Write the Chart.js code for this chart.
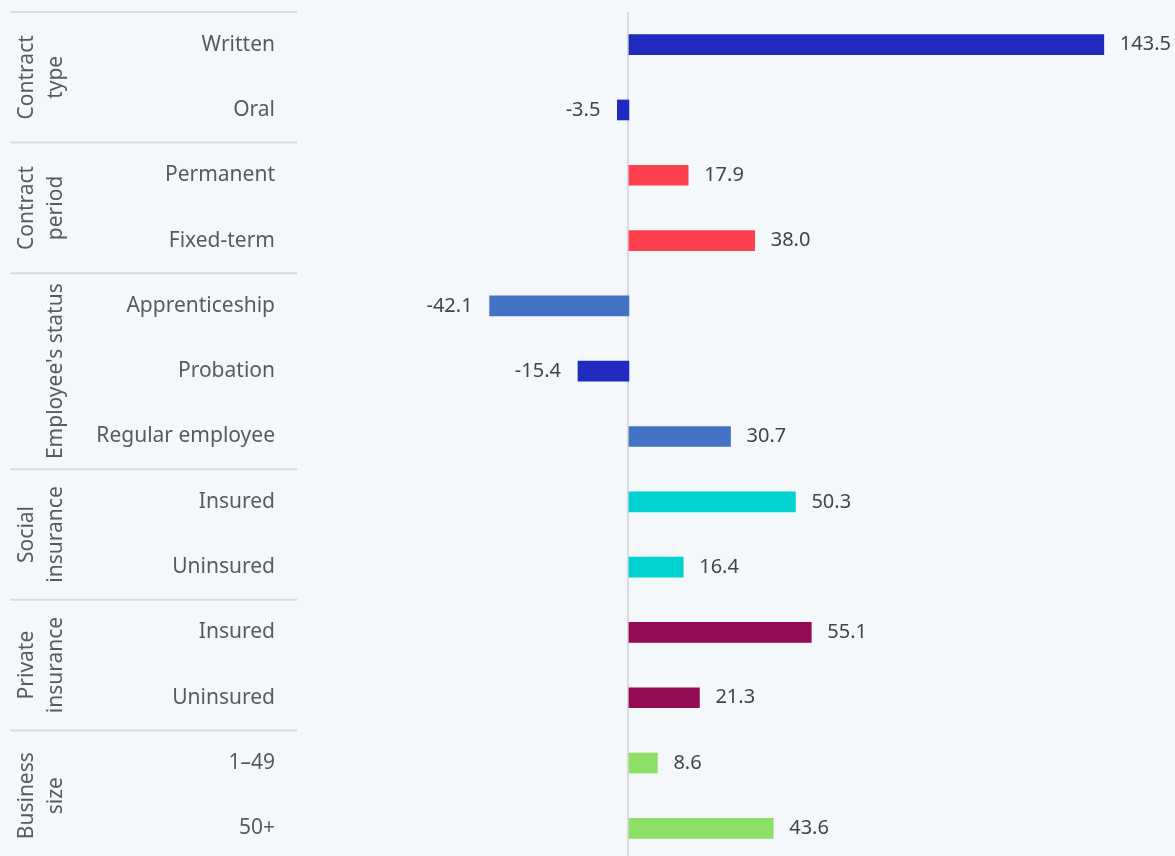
<!DOCTYPE html>
<html>
<head>
<meta charset="utf-8">
<script src="https://cdn.jsdelivr.net/npm/chart.js@4.4.1/dist/chart.umd.min.js"></script>
<style>
  html, body { margin: 0; padding: 0; background: #f5f8fa; overflow: hidden; }
  #wrap { position: relative; width: 1175px; height: 862px; }
</style>
</head>
<body>
<div id="wrap"><canvas id="chart"></canvas></div>
<script>
// Categories, grouped top to bottom
const categories = [
  'Written', 'Oral',
  'Permanent', 'Fixed-term',
  'Apprenticeship', 'Probation', 'Regular employee',
  'Insured', 'Uninsured',
  'Insured', 'Uninsured',
  '1–49', '50+'
];
const values = [143.5, -3.5, 17.9, 38.0, -42.1, -15.4, 30.7, 50.3, 16.4, 55.1, 21.3, 8.6, 43.6];
const barColors = [
  '#1f2bbf', '#1f2bbf',
  '#ff3f4d', '#ff3f4d',
  '#4472c4', '#1f2bbf', '#4472c4',
  '#00d1d1', '#00d1d1',
  '#930b52', '#930b52',
  '#8de065', '#8de065'
];
// Group headings (one array entry per text line) and how many rows each spans
const groupNames = [
  ['Contract', 'type'],
  ['Contract', 'period'],
  ["Employee's status"],
  ['Social', 'insurance'],
  ['Private', 'insurance'],
  ['Business', 'size']
];
const groupSizes = [2, 2, 3, 2, 2, 2];

const FONT = "'Noto Sans', 'Open Sans', sans-serif";

const decorations = {
  id: 'decorations',
  beforeDatasetsDraw(chart) {
    const { ctx, chartArea } = chart;
    const x = chart.scales.x, y = chart.scales.y;
    ctx.save();
    // zero line
    const x0 = x.getPixelForValue(0) - 1;
    ctx.strokeStyle = '#d9dcdf';
    ctx.lineWidth = 2;
    ctx.beginPath();
    ctx.moveTo(x0, chartArea.top);
    ctx.lineTo(x0, chartArea.bottom);
    ctx.stroke();

    // group separators and rotated group headings
    let start = 0;
    groupSizes.forEach((n, g) => {
      const yTop = y.getPixelForValue(start - 0.5);
      ctx.strokeStyle = '#d8dbde';
      ctx.lineWidth = 2;
      ctx.beginPath();
      ctx.moveTo(10, yTop);
      ctx.lineTo(297, yTop);
      ctx.stroke();

      const yMid = (y.getPixelForValue(start - 0.5) + y.getPixelForValue(start + n - 0.5)) / 2;
      const lines = groupNames[g];
      ctx.fillStyle = '#5a5a5a';
      ctx.font = '21px ' + FONT;
      ctx.textAlign = 'center';
      ctx.textBaseline = 'alphabetic';
      lines.forEach((t, k) => {
        const baseX = 62 - (lines.length - 1 - k) * 29;
        ctx.save();
        ctx.translate(baseX, yMid);
        ctx.rotate(-Math.PI / 2);
        ctx.fillText(t, 0, 0);
        ctx.restore();
      });
      start += n;
    });
    ctx.restore();
  },
  afterDatasetsDraw(chart) {
    const { ctx } = chart;
    const meta = chart.getDatasetMeta(0);
    ctx.save();
    ctx.font = '20px ' + FONT;
    ctx.fillStyle = '#444444';
    ctx.textBaseline = 'middle';
    meta.data.forEach((bar, i) => {
      const v = values[i];
      const label = v.toFixed(1);
      if (v >= 0) {
        ctx.textAlign = 'left';
        ctx.fillText(label, bar.x + 16, bar.y);
      } else {
        ctx.textAlign = 'right';
        ctx.fillText(label, bar.x - 17, bar.y);
      }
    });
    ctx.restore();
  }
};

new Chart(document.getElementById('chart'), {
  type: 'bar',
  data: {
    labels: categories,
    datasets: [{
      data: values,
      backgroundColor: barColors,
      borderWidth: 0,
      barThickness: 20
    }]
  },
  options: {
    indexAxis: 'y',
    responsive: true,
    maintainAspectRatio: false,
    animation: false,
    layout: { padding: { top: 12, bottom: 1, left: 0, right: 1 } },
    plugins: { legend: { display: false }, tooltip: { enabled: false } },
    scales: {
      x: {
        display: false,
        min: -100.3,
        max: 164.7
      },
      y: {
        type: 'category',
        grid: { display: false, drawTicks: false },
        border: { display: false },
        ticks: {
          color: '#5a5a5a',
          font: { family: FONT, size: 21 },
          padding: 22,
          crossAlign: 'near',
          autoSkip: false
        },
        afterFit(scale) {
          scale.width = 297;
          scale.paddingTop = 0;
          scale.paddingBottom = 0;
        }
      }
    }
  },
  plugins: [decorations]
});
</script>
</body>
</html>
